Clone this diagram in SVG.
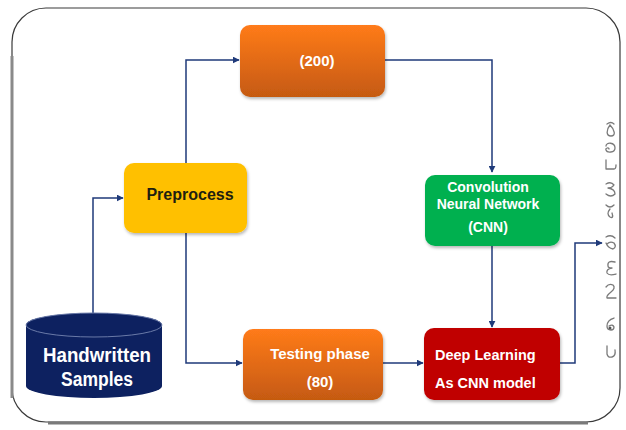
<svg xmlns="http://www.w3.org/2000/svg" width="626" height="430" viewBox="0 0 626 430">
  <style>
    .lbl { font-family: "Liberation Sans", Arial, sans-serif; font-weight: bold; text-anchor: middle; fill: #ffffff; }
    .conn { fill: none; stroke: #1f3a7a; stroke-width: 1.5; }
    .digit { fill: none; stroke: #7a7a7a; stroke-width: 1.3; stroke-linecap: round; stroke-linejoin: round; }
  </style>
  <defs>
    <linearGradient id="orangeGrad" x1="0" y1="0" x2="0" y2="1">
      <stop offset="0" stop-color="#ff7b1a"/>
      <stop offset="1" stop-color="#c55a11"/>
    </linearGradient>
    <filter id="shadow" x="-10%" y="-10%" width="125%" height="130%">
      <feDropShadow dx="1" dy="2" stdDeviation="1.5" flood-color="#000" flood-opacity="0.28"/>
    </filter>
    <marker id="arrow" viewBox="0 0 10 10" refX="9" refY="5" markerWidth="7" markerHeight="7" orient="auto" markerUnits="userSpaceOnUse">
      <path d="M0,0 L10,5 L0,10 z" fill="#1f3a7a"/>
    </marker>
  </defs>

  <!-- outer frame -->
  <rect x="0" y="0" width="626" height="430" fill="#ffffff"/>
  <rect x="12" y="8" width="608" height="414" rx="34" ry="34" fill="#ffffff" stroke="#3a3a3a" stroke-width="1.2"/>
  <line x1="12" y1="56" x2="12" y2="398" stroke="#8a8a8a" stroke-width="3"/>
  <line x1="48" y1="423" x2="588" y2="423" stroke="#7a7a7a" stroke-width="3"/>

  <!-- connectors -->
  <g id="connectors">
    <path class="conn" d="M93,313 V198 H123" marker-end="url(#arrow)"/>
    <path class="conn" d="M186,163 V60 H239" marker-end="url(#arrow)"/>
    <path class="conn" d="M186,233 V363 H242" marker-end="url(#arrow)"/>
    <path class="conn" d="M385,60 H492 V172" marker-end="url(#arrow)"/>
    <path class="conn" d="M492,246 V327" marker-end="url(#arrow)"/>
    <path class="conn" d="M383,363 H423" marker-end="url(#arrow)"/>
    <path class="conn" d="M560,363 H575 V243 H602" marker-end="url(#arrow)"/>
  </g>

  <!-- data store -->
  <g id="handwritten-samples">
    <path d="M26,325 V386 A68,12 0 0 0 162,386 V325 A68,12 0 0 0 26,325 z" fill="#0d2160"/>
    <ellipse cx="94" cy="325" rx="68" ry="12" fill="#0d2160" stroke="#6a7aa8" stroke-width="1"/>
    <text class="lbl" x="97" y="362" font-size="20" textLength="108" lengthAdjust="spacingAndGlyphs">Handwritten</text>
    <text class="lbl" x="97" y="386" font-size="20" textLength="72" lengthAdjust="spacingAndGlyphs">Samples</text>
  </g>

  <g id="preprocess">
    <rect x="124" y="163" width="123" height="70" rx="10" fill="#ffc000" filter="url(#shadow)"/>
    <text class="lbl" x="190" y="200" font-size="16" style="fill:#1e1e10">Preprocess</text>
  </g>

  <g id="training">
    <rect x="240" y="25" width="145" height="72" rx="10" fill="url(#orangeGrad)" filter="url(#shadow)"/>
    <text class="lbl" x="317" y="66" font-size="15">(200)</text>
  </g>

  <g id="testing">
    <rect x="243" y="329" width="140" height="71" rx="10" fill="url(#orangeGrad)" filter="url(#shadow)"/>
    <text class="lbl" x="320" y="359" font-size="15">Testing phase</text>
    <text class="lbl" x="320" y="387" font-size="15">(80)</text>
  </g>

  <g id="cnn">
    <rect x="425" y="175" width="135" height="71" rx="10" fill="#00b050" filter="url(#shadow)"/>
    <text class="lbl" x="488" y="192" font-size="14">Convolution</text>
    <text class="lbl" x="488" y="209" font-size="14">Neural Network</text>
    <text class="lbl" x="488" y="232" font-size="14">(CNN)</text>
  </g>

  <g id="deep-learning">
    <rect x="424" y="328" width="136" height="72" rx="10" fill="#c00000" filter="url(#shadow)"/>
    <text class="lbl" x="435" y="360" font-size="14.5" style="text-anchor:start">Deep Learning</text>
    <text class="lbl" x="435" y="388" font-size="14.5" style="text-anchor:start">As CNN model</text>
  </g>

  <!-- handwritten digit samples -->
  <g id="digits">
    <path class="digit" d="M607,124 Q611,121 614,124 M610,125 C606,130 606,136 611,136 C616,136 615,130 610,125"/>
    <path class="digit" d="M606,146 C606,142 615,142 615,148 C615,153 607,153 606,150 C605,148 609,147 609,149"/>
    <path class="digit" d="M606,160 V169 H614 Q616,169 616,165"/>
    <path class="digit" d="M606,184 Q611,181 614,185 Q612,188 608,188 Q615,189 615,194 Q611,198 606,194"/>
    <path class="digit" d="M606,205 Q610,209 614,205 M610,209 Q606,214 610,217 Q614,219 612,213"/>
    <path class="digit" d="M606,237 Q611,234 615,238 M606,243 Q608,248 613,249 Q617,247 614,243 Q610,241 607,244"/>
    <path class="digit" d="M615,262 Q607,260 608,266 Q608,268 612,268 Q606,269 607,273 Q609,276 616,274"/>
    <path class="digit" d="M606,287 Q609,283 613,285 Q616,288 611,292 Q606,296 607,298 H616"/>
    <path class="digit" d="M614,318 Q607,320 607,326 Q607,330 611,330 Q614,330 614,327 Q613,324 609,326"/>
    <circle cx="610" cy="328" r="1.5" fill="#555"/>
    <path class="digit" d="M607,346 V354 Q608,358 612,357 Q616,356 615,350"/>
  </g>
</svg>
